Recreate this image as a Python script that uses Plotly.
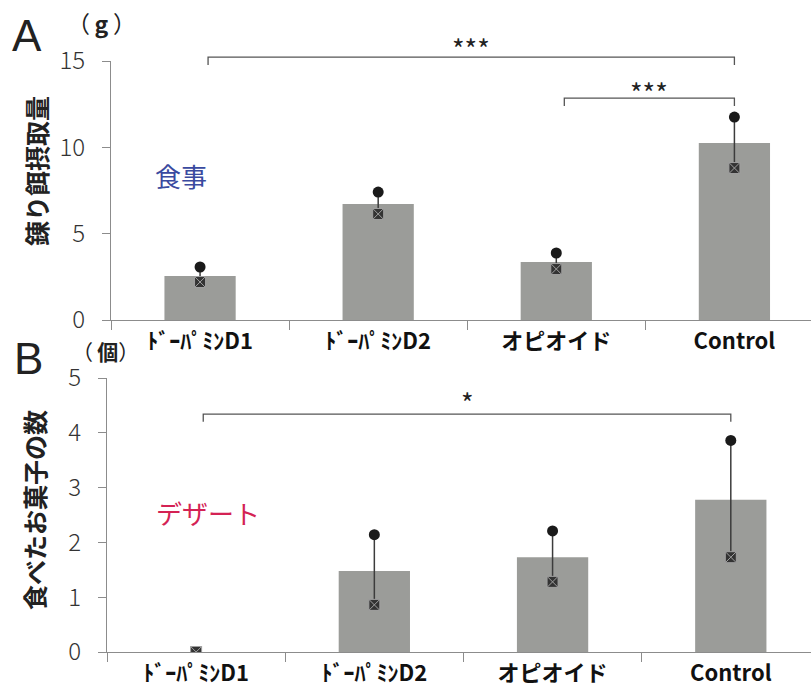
import plotly.graph_objects as go

# Categories and values
categories = ["ﾄﾞｰﾊﾟﾐﾝD1", "ﾄﾞｰﾊﾟﾐﾝD2", "オピオイド", "Control"]

food_mean = [2.55, 6.72, 3.36, 10.25]
food_upper = [3.07, 7.41, 3.88, 11.75]
food_lower = [2.20, 6.14, 2.95, 8.80]

sweets_mean = [0.0, 1.48, 1.73, 2.78]
sweets_upper = [0.0, 2.14, 2.21, 3.86]
sweets_lower = [0.0, 0.86, 1.28, 1.73]

# significance brackets: (from index, to index, height, tick drop, label, label height)
food_brackets = [(0, 3, 15.22, 0.45, "***", 15.7), (2, 3, 12.85, 0.45, "***", 13.2)]
sweets_brackets = [(0, 3, 4.34, 0.14, "*", 4.56)]

JP = "Noto Sans CJK JP"
BAR = "#9b9c99"
AXIS = "#8c8c8c"
W, H = 812, 690

# plot-area placement (paper fractions)
A_X = [111 / W, 811 / W]
A_Y = [1 - 320 / H, 1 - 61 / H]
B_X = [107 / W, 811 / W]
B_Y = [1 - 652 / H, 1 - 378 / H]
A_RANGE = [0, 15]
B_RANGE = [0, 5]

fig = go.Figure()


def add_panel(xa, ya, mean, upper, lower):
    fig.add_trace(go.Bar(x=categories, y=mean, marker=dict(color=BAR, line=dict(width=0)),
                         width=0.4, xaxis=xa, yaxis=ya, showlegend=False))
    fig.add_trace(go.Scatter(x=categories, y=lower, mode="markers",
                             marker=dict(size=1, color="rgba(0,0,0,0)"),
                             error_y=dict(type="data", symmetric=False,
                                          array=[u - l for u, l in zip(upper, lower)],
                                          arrayminus=[0] * len(lower),
                                          thickness=1.5, width=0, color="#3c3c3c"),
                             xaxis=xa, yaxis=ya, showlegend=False))
    fig.add_trace(go.Scatter(x=categories, y=upper, mode="markers",
                             marker=dict(symbol="circle", size=11, color="#1a1a1a"),
                             xaxis=xa, yaxis=ya, showlegend=False))
    fig.add_trace(go.Scatter(x=categories, y=lower, mode="markers",
                             marker=dict(symbol="square-x", size=11, color="#333333",
                                         line=dict(color="#a0a0a0", width=1)),
                             xaxis=xa, yaxis=ya, showlegend=False))


add_panel("x", "y", food_mean, food_upper, food_lower)
add_panel("x2", "y2", sweets_mean, sweets_upper, sweets_lower)

shapes = []
annotations = []


def to_paper(v, rng, dom):
    return dom[0] + (v - rng[0]) / (rng[1] - rng[0]) * (dom[1] - dom[0])


def add_brackets(brackets, xref, rng, dom, offset):
    for i0, i1, h, drop, label, lh in brackets:
        x0 = i0 + offset
        x1 = i1
        top = to_paper(h, rng, dom)
        low = to_paper(h - drop, rng, dom)
        shapes.append(dict(type="path", xref=xref, yref="paper",
                           path=f"M {x0},{low} L {x0},{top} L {x1},{top} L {x1},{low}",
                           line=dict(color="#555555", width=1.3)))
        annotations.append(dict(x=(x0 + x1) / 2, y=to_paper(lh, rng, dom), xref=xref,
                                yref="paper", text=label, showarrow=False,
                                xanchor="center", yanchor="middle",
                                font=dict(family=JP, size=27, color="#222")))


add_brackets(food_brackets, "x", A_RANGE, A_Y, 0.045)
add_brackets(sweets_brackets, "x2", B_RANGE, B_Y, 0.04)

# panel letters, units, axis titles and group labels
labels = [
    dict(x=27, y=35, text="A", font=dict(family="Liberation Sans", size=44, color="#222")),
    dict(x=28, y=359, text="B", font=dict(family="Liberation Sans", size=44, color="#222")),
    dict(x=101, y=23, text="（\u2009<b>g</b>\u2009）", font=dict(family=JP, size=23, color="#222")),
    dict(x=105, y=351, text="（\u2009<b>個</b>）", font=dict(family=JP, size=21, color="#222")),
    dict(x=36, y=171, text="錬り餌摂取量", textangle=-90,
         font=dict(family=JP, size=25, color="#222", weight="bold")),
    dict(x=34, y=510, text="食べたお菓子の数", textangle=-90,
         font=dict(family=JP, size=25, color="#222", weight="bold")),
    dict(x=181, y=175, text="食事", font=dict(family=JP, size=26, color="#3a4aa0")),
    dict(x=208, y=512, text="デザート", font=dict(family=JP, size=26, color="#d42254")),
]
for a in labels:
    a.update(xref="paper", yref="paper", x=a["x"] / W, y=1 - a["y"] / H,
             xanchor="center", yanchor="middle", showarrow=False)
annotations += labels

xcommon = dict(type="category", showline=True, linecolor=AXIS, linewidth=1.2,
               ticks="outside", tickson="boundaries", ticklen=9, tickcolor=AXIS,
               showgrid=False, zeroline=False, automargin=False, ticklabelstandoff=1,
               tickfont=dict(family=JP, size=22, color="#111", weight="bold"))
ycommon = dict(showline=True, linecolor=AXIS, linewidth=1.2, ticks="outside",
               ticklen=8, tickcolor=AXIS, showgrid=False, zeroline=False,
               ticklabelstandoff=12, automargin=False,
               tickfont=dict(family=JP, size=24, color="#333", weight=300))

fig.update_layout(
    width=W, height=H, margin=dict(l=0, r=0, t=0, b=0, pad=0),
    paper_bgcolor="white", plot_bgcolor="white",
    xaxis=dict(xcommon, domain=A_X, range=[-0.5, 3.43], anchor="y"),
    yaxis=dict(ycommon, domain=A_Y, range=A_RANGE, tickvals=[0, 5, 10, 15], anchor="x"),
    xaxis2=dict(xcommon, domain=B_X, range=[-0.5, 3.45], anchor="y2"),
    yaxis2=dict(ycommon, domain=B_Y, range=B_RANGE, tickvals=[0, 1, 2, 3, 4, 5], anchor="x2"),
    shapes=shapes, annotations=annotations, bargap=0.6,
)

fig.write_html("out.html")
